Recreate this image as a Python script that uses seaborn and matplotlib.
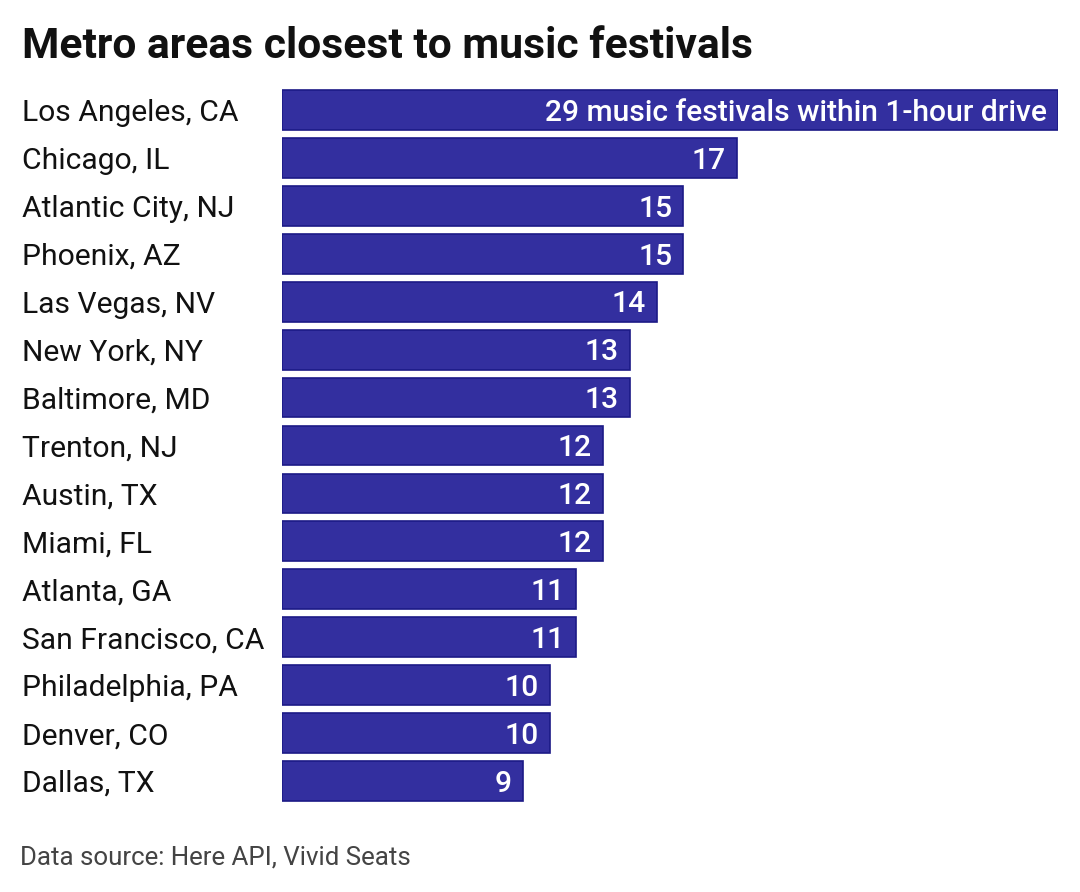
import matplotlib
matplotlib.use("Agg")
import matplotlib.pyplot as plt
import seaborn as sns
import pandas as pd

# data
metros = [
    "Los Angeles, CA", "Chicago, IL", "Atlantic City, NJ", "Phoenix, AZ",
    "Las Vegas, NV", "New York, NY", "Baltimore, MD", "Trenton, NJ",
    "Austin, TX", "Miami, FL", "Atlanta, GA", "San Francisco, CA",
    "Philadelphia, PA", "Denver, CO", "Dallas, TX",
]
festivals = [29, 17, 15, 15, 14, 13, 13, 12, 12, 12, 11, 11, 10, 10, 9]
first_label_suffix = " music festivals within 1-hour drive"

title = "Metro areas closest to music festivals"
source = "Data source: Here API, Vivid Seats"

BAR_COLOR = "#332f9f"
EDGE_COLOR = "#1c1a86"

df = pd.DataFrame({"metro": metros, "festivals": festivals})

sns.set_theme(style="white")
plt.rcParams["font.family"] = ["Roboto", "DejaVu Sans"]

W, H, DPI = 1080, 892, 100
fig = plt.figure(figsize=(W / DPI, H / DPI), dpi=DPI)
ax = fig.add_axes([282 / W, 1 - 805 / H, (1058 - 282) / W, (805 - 86) / H])

sns.barplot(data=df, x="festivals", y="metro", orient="h", color=BAR_COLOR,
            edgecolor=EDGE_COLOR, linewidth=1.2, width=0.83, saturation=1,
            ax=ax)

ax.set_xlim(0, 29)
ax.set_ylim(len(metros) - 0.5, -0.5)
ax.set_xlabel("")
ax.set_ylabel("")
ax.set_xticks([])
sns.despine(ax=ax, left=True, bottom=True)

# metro names, left aligned at the figure margin
pad_pts = (282 - 22) * 72 / DPI
ax.tick_params(axis="y", length=0, pad=pad_pts, labelsize=21.6, labelcolor="#111111")
for lab in ax.get_yticklabels():
    lab.set_horizontalalignment("left")

# value labels inside the bar ends
for i, v in enumerate(festivals):
    txt = f"{v}{first_label_suffix}" if i == 0 else f"{v}"
    ax.annotate(txt, xy=(v, i), xytext=(-8, -2), textcoords="offset points",
                ha="right", va="center", color="white", fontsize=21.6,
                fontweight="medium")

fig.text(22 / W, 1 - 46 / H, title, fontsize=30.7, fontweight="bold",
         ha="left", va="center", color="#111111")
fig.text(20 / W, 1 - 857 / H, source, fontsize=18.6, ha="left", va="center",
         color="#444444")

fig.savefig("out.png", dpi=DPI)
